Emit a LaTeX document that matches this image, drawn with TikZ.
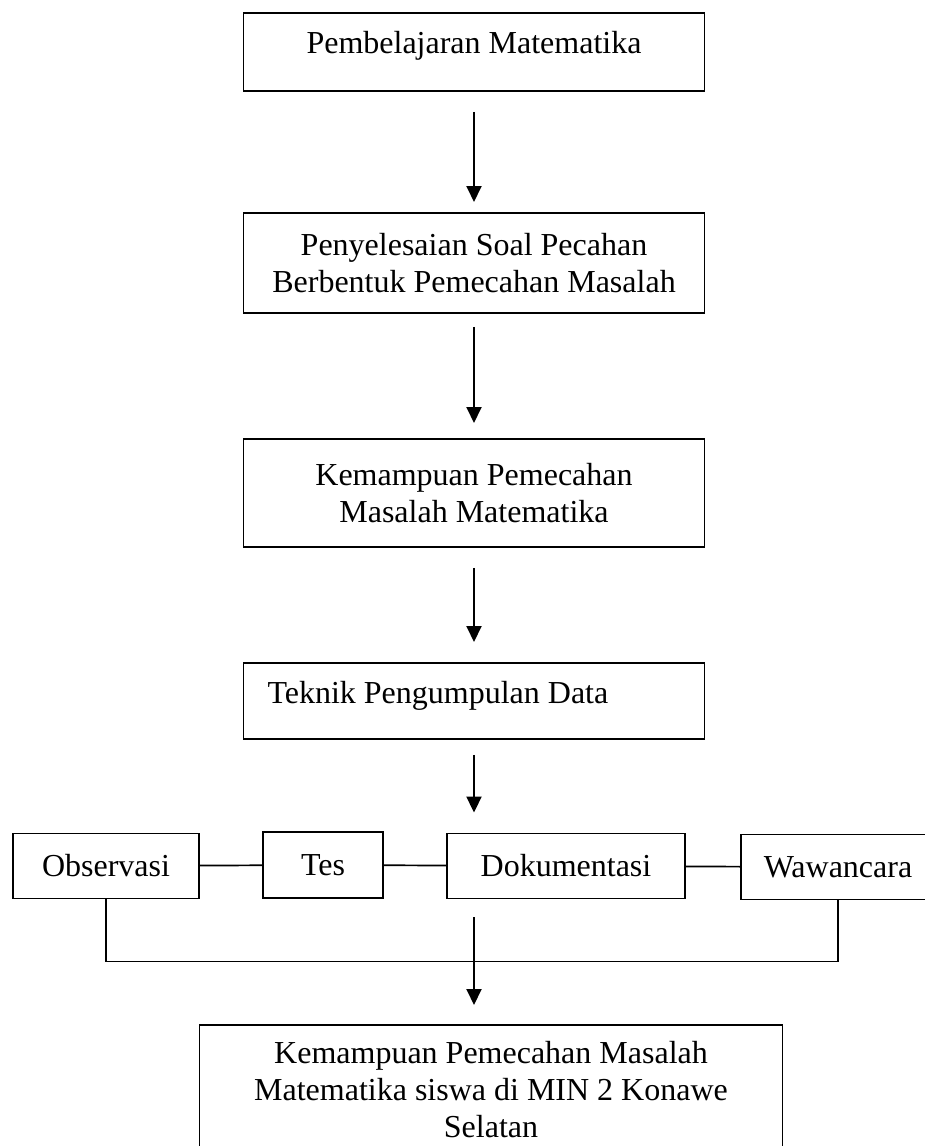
\documentclass[tikz,border=0pt]{standalone}
\usepackage{fontspec}
\setmainfont{Liberation Serif}
\usetikzlibrary{arrows.meta}

\begin{document}
\begin{tikzpicture}[
    x=1pt, y=-1pt,
    kotak/.style={draw, line width=1.9pt, inner sep=0pt, align=center,
        font=\fontsize{32}{37}\selectfont},
    panah/.style={line width=1.9pt, -{Triangle[length=16pt,width=15pt]}},
    garis/.style={line width=1.7pt}
    ]
    \clip (0,0) rectangle (925,1146);

    % kotak-kotak utama
    \node[kotak, minimum width=461pt, text height=41pt, text depth=37pt, anchor=north] (b1) at (474,12) {Pembelajaran Matematika};
    \node[kotak, minimum width=461pt, minimum height=100pt, anchor=north] (b2) at (474,212) {Penyelesaian Soal Pecahan\\Berbentuk Pemecahan Masalah};
    \node[kotak, minimum width=461pt, minimum height=108pt, anchor=north] (b3) at (474,438) {Kemampuan Pemecahan\\Masalah Matematika};
    \node[kotak, inner xsep=24pt, text height=41pt, text depth=35pt, anchor=north] (b4) at (474,662) {\makebox[413pt][l]{Teknik Pengumpulan Data}};

    % teknik
    \node[kotak, minimum width=186pt, minimum height=65pt] (obs) at (106,866) {Observasi};
    \node[kotak, minimum width=120pt, minimum height=66pt] (tes) at (323,865) {Tes};
    \node[kotak, minimum width=238pt, minimum height=65pt] (dok) at (566,866) {Dokumentasi};
    \node[kotak, minimum width=194pt, minimum height=65pt] (waw) at (838,867) {Wawancara};

    \node[kotak, minimum width=583pt, minimum height=130pt, anchor=north] (hasil) at (491,1024) {Kemampuan Pemecahan Masalah\\Matematika siswa di MIN 2 Konawe\\Selatan};

    % panah
    \draw[panah, shorten <=20pt, shorten >=10pt] (b1) -- (b2);
    \draw[panah, shorten <=13pt, shorten >=15pt] (b2) -- (b3);
    \draw[panah, shorten <=20pt, shorten >=20pt] (b3) -- (b4);
    \draw[panah, shorten <=15pt, shorten >=20pt] (b4.south) -- (b4.south |- dok.north);

    \draw[garis] (obs) -- (tes);
    \draw[garis] (tes) -- (dok);
    \draw[garis] (dok) -- (waw);
    \draw[garis] (obs.south) -- ++(0,62) -| (waw.south);

    \coordinate (awal) at (474,917);
    \draw[panah, shorten >=19pt] (awal) -- (awal |- hasil.north);

\end{tikzpicture}
\end{document}
